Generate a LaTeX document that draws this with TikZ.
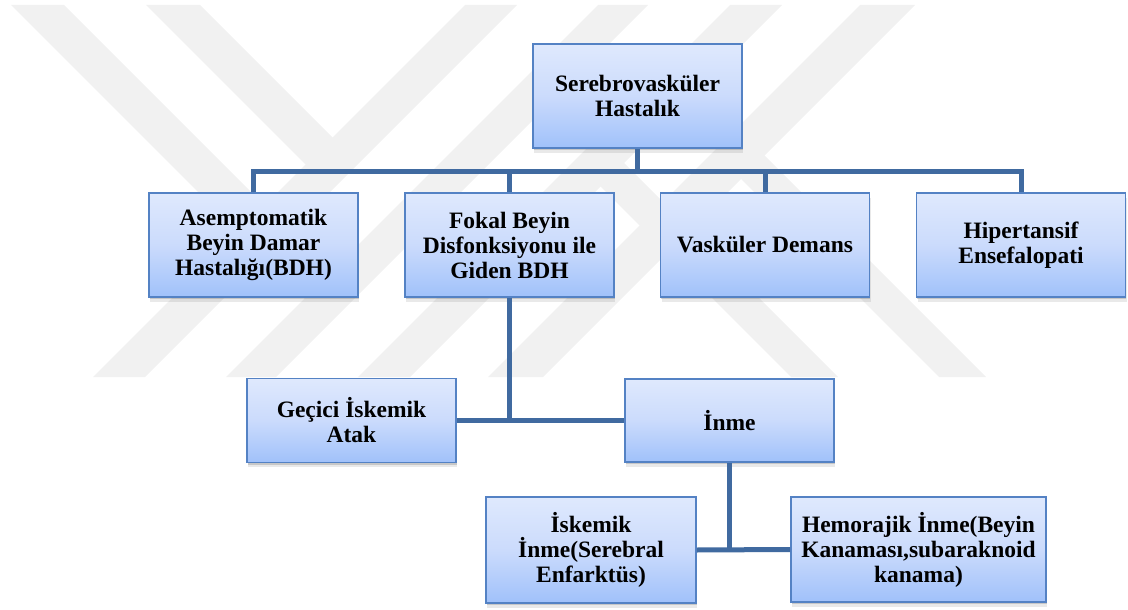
\documentclass[tikz,border=0pt]{standalone}
\usepackage{fontspec}
\setmainfont{Liberation Serif}
\usetikzlibrary{shadows}
\definecolor{boxtop}{RGB}{223,233,253}
\definecolor{boxmid}{RGB}{203,219,252}
\definecolor{boxbot}{RGB}{160,193,250}
\definecolor{boxborder}{RGB}{84,130,196}
\definecolor{conncol}{RGB}{64,106,160}
\definecolor{wm}{RGB}{241,241,241}
\begin{document}
\begin{tikzpicture}[x=1pt,y=-1pt,
  box/.style={draw=boxborder, line width=1.6pt, top color=boxtop, bottom color=boxbot, middle color=boxmid,
    drop shadow={shadow xshift=0.8pt, shadow yshift=-2pt, opacity=0.22, fill=black!70},
    drop shadow={shadow xshift=1.4pt, shadow yshift=-4.5pt, opacity=0.12, fill=black!70},
    align=center, inner sep=0pt, minimum width=209pt, minimum height=104pt,
    font=\bfseries\fontsize{23.5}{25}\selectfont},
  wmark/.style={fill=wm},
  conn/.style={draw=conncol, line width=5pt}]
\useasboundingbox (0,0) rectangle (1128,610);
% watermark
\fill[wmark] (465,5) -- (517,5) -- (145,377) -- (93,377) -- cycle;
\fill[wmark] (598,5) -- (648,5) -- (276,377) -- (226,377) -- cycle;
\fill[wmark] (730,5) -- (782,5) -- (410,377) -- (358,377) -- cycle;
\fill[wmark] (860,5) -- (915,5) -- (543,377) -- (488,377) -- cycle;
\fill[wmark] (11,5) -- (64,5) -- (343.5,284.5) -- (317,311) -- cycle;
\fill[wmark] (146,5) -- (200,5) -- (345.5,150.5) -- (318.5,177.5) -- cycle;
\fill[wmark] (587.5,173.5) -- (611,150) -- (838,377) -- (791,377) -- cycle;
\fill[wmark] (727,165) -- (750.75,141.75) -- (986,377) -- (939,377) -- cycle;
% nodes
\node[box] (root) at (637.5,96) {Serebrovasküler\\Hastalık};
\node[box] (A) at (253.5,245) {Asemptomatik\\Beyin Damar\\Hastalığı(BDH)};
\node[box] (B) at (509.5,245) {Fokal Beyin\\Disfonksiyonu ile\\Giden BDH};
\node[box] (C) at (765,245) {Vasküler Demans};
\node[box] (D) at (1021,245) {Hipertansif\\Ensefalopati};
\node[box, minimum height=84pt] (G) at (351.5,420.5) {Geçici İskemik\\Atak};
\node[box, minimum height=83pt] (I) at (729.5,420.5) {İnme};
\node[box, minimum width=210pt, minimum height=106pt] (Isk) at (591,550) {İskemik\\İnme(Serebral\\Enfarktüs)};
\node[box, minimum width=255pt, minimum height=105pt] (Hem) at (918.5,549.5) {Hemorajik İnme(Beyin\\Kanaması,subaraknoid\\kanama)};
% connectors
\coordinate (bar) at (637.5,171);
\draw[conn] (root.south) -- (bar);
\draw[conn] (A.north) |- (bar) -| (D.north);
\draw[conn] (B.north) -- (B.north |- bar);
\draw[conn] (C.north) -- (C.north |- bar);
\draw[conn] (B.south) -- (B.south |- G.east);
\draw[conn] (G.east) -- (I.west);
\draw[conn] (I.south) -- (I.south |- Isk.east);
\draw[conn] (Isk.east) -- (Hem.west);
\end{tikzpicture}
\end{document}
